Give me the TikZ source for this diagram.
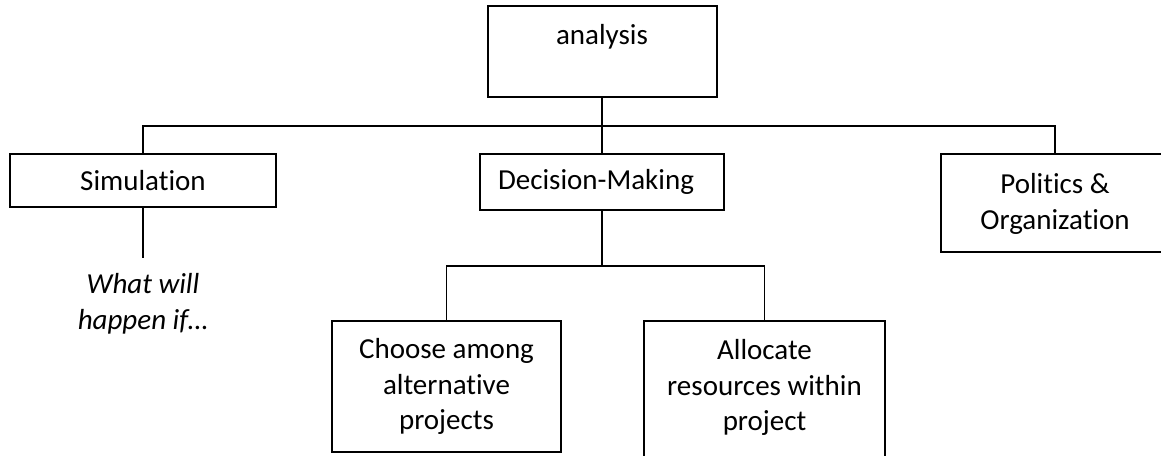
\documentclass[tikz,border=0pt]{standalone}
\usepackage{fontspec}
\setmainfont{Carlito}[Ligatures=NoCommon]
\begin{document}
\begin{tikzpicture}[x=1pt,y=-1pt,
  box/.style={draw, line width=1.7pt, inner sep=0pt, align=center},
  lbl/.style={inner sep=0pt, align=center},
  link/.style={line width=1.6pt},
  every node/.append style={font=\fontsize{29}{35.5}\selectfont}]
  \useasboundingbox (0,0) rectangle (1161,455);
  \clip (0,0) rectangle (1161,455);

  % boxes and their texts
  \node[box, minimum width=229pt, minimum height=91pt] (analysis) at (602.5,51.5) {};
  \node[lbl] (analysisText) at (602,37) {analysis};
  \node[box, minimum width=266pt, minimum height=53pt] (sim) at (143,180.5) {Simulation};
  \node[box, minimum width=244pt, minimum height=56pt] (dm) at (602,182) {};
  \node[lbl] (dmText) at (596,182) {Decision-Making};
  \node[box, minimum width=228pt, minimum height=98pt] (pol) at (1055,203) {};
  \node[lbl] (polText) at (1055,204) {Politics \&\\Organization};
  \node[box, minimum width=229pt, minimum height=131pt] (choose) at (446.5,386.5) {Choose among\\alternative\\projects};
  \node[box, minimum width=241pt, minimum height=160pt] (alloc) at (764.5,401) {};
  \node[lbl] (allocText) at (764.5,387.5) {Allocate\\resources within\\project};
  \node[lbl] (whatif) at (143,304) {\itshape What will\\\itshape happen if\ldots};

  % connector points
  \coordinate (bus1) at (602,126);
  \coordinate (bus2) at (602,266);
  \coordinate (simEnd) at (143,258);

  % top level tree
  \draw[link] (analysis.south -| bus1) -- (dm.north -| bus1);
  \draw[link] (sim.north) -- (sim.north |- bus1) -- (bus1 -| pol.north) -- (pol.north);
  \draw[link] (sim.south) -- (simEnd);

  % decision-making branch
  \draw[link] (dm.south -| bus2) -- (bus2);
  \draw[link] (choose.north) -- (choose.north |- bus2) -- (bus2 -| alloc.north) -- (alloc.north);
\end{tikzpicture}
\end{document}
